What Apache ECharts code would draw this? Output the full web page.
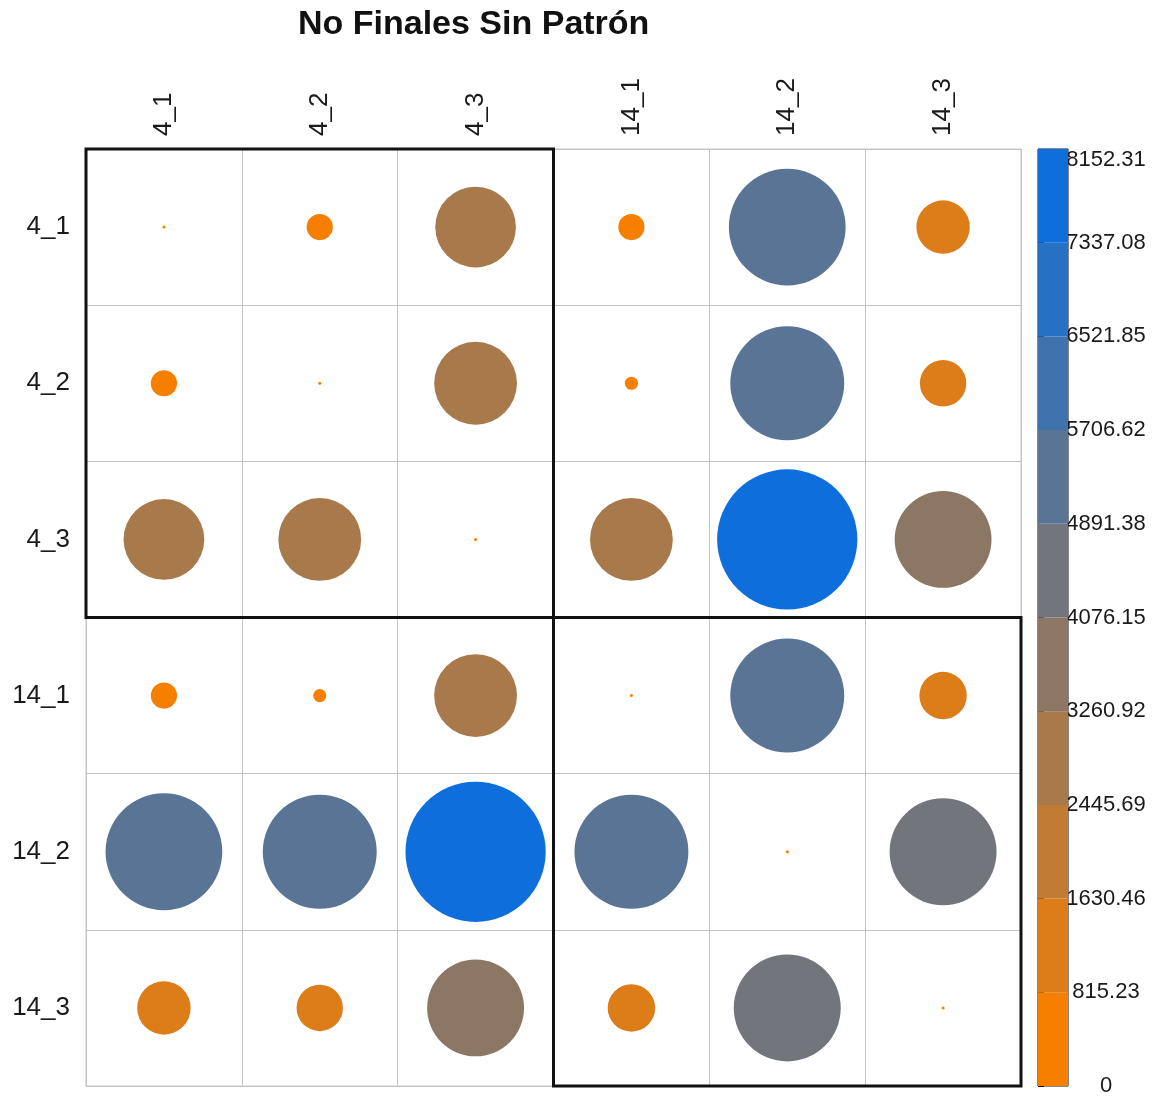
<!DOCTYPE html>
<html>
<head>
<meta charset="utf-8">
<title>No Finales Sin Patrón</title>
<script src="https://cdn.jsdelivr.net/npm/echarts@6/dist/echarts.min.js"></script>
<style>
  html, body { margin: 0; padding: 0; background: #ffffff; }
  #chart { width: 1152px; height: 1099px; }
</style>
</head>
<body>
<div id="chart"></div>
<script>
// Row / column labels of the distance matrix
const labels = ['4_1', '4_2', '4_3', '14_1', '14_2', '14_3'];

// Pairwise distances, one array per row (symmetric, zero diagonal)
const row_4_1  = [0,    285,  2700,    285,  5650,    1185];
const row_4_2  = [285,  0,    2840,    71,   5380,    893];
const row_4_3  = [2700, 2840, 0,       2840, 8152.31, 3890];
const row_14_1 = [285,  71,   2840,    0,    5380,    932];
const row_14_2 = [5650, 5380, 8152.31, 5380, 0,       4740];
const row_14_3 = [1185, 893,  3890,    932,  4740,    0];
const rows = [row_4_1, row_4_2, row_4_3, row_14_1, row_14_2, row_14_3];

// Colour-bar tick labels (bin edges)
const tickLabels = ['0', '815.23', '1630.46', '2445.69', '3260.92', '4076.15',
                    '4891.38', '5706.62', '6521.85', '7337.08', '8152.31'];

// Highlighted clusters (first and last label of each block)
const clusters = [['4_1', '4_3'], ['14_1', '14_3']];

// One colour per bin, orange -> slate grey -> blue
const binColors = ['#F77F00', '#DC7D19', '#C27B32', '#A7794B', '#8C7764',
                   '#72757C', '#597494', '#4072AC', '#2771C4', '#0E6FDC'];

const edges = tickLabels.map(Number);
const vMin = edges[0];
const vMax = edges[edges.length - 1];
const step = (vMax - vMin) / (edges.length - 1);

function binOf(v) {
  for (let i = 0; i < edges.length - 1; i++) {
    if (v < edges[i + 1]) return i;
  }
  return edges.length - 2;
}

const GRID = { left: 86, top: 149, width: 935, height: 937 };
const cellSize = GRID.width / labels.length;

const points = [];
rows.forEach((r, yi) => {
  r.forEach((v, xi) => {
    points.push({ value: [xi, yi, v], itemStyle: { color: binColors[binOf(v)], opacity: 1 } });
  });
});

const bins = [];
for (let i = 0; i < edges.length - 1; i++) bins.push([edges[i], edges[i + 1], i]);

const clusterData = clusters.map(c => [labels.indexOf(c[0]), labels.indexOf(c[1])]);

const FONT = '"Liberation Sans", Arial, sans-serif';
const chart = echarts.init(document.getElementById('chart'), null, { renderer: 'canvas' });

chart.setOption({
  backgroundColor: '#ffffff',
  animation: false,
  title: {
    text: 'No Finales Sin Patrón',
    left: 293,
    top: 3,
    textStyle: { fontFamily: FONT, fontWeight: 'bold', fontSize: 34, color: '#111' }
  },
  grid: [
    Object.assign({ show: true, borderColor: '#C4C4C4', borderWidth: 1, containLabel: false }, GRID),
    { left: 1038, top: 149, width: 30, height: 937, show: true, borderColor: '#111', borderWidth: 1, containLabel: false }
  ],
  xAxis: [
    {
      gridIndex: 0, type: 'category', data: labels, position: 'top',
      axisLine: { show: false }, axisTick: { show: false },
      splitLine: { show: true, interval: 0, lineStyle: { color: '#C4C4C4', width: 1 } },
      axisLabel: { rotate: -90, margin: 13, fontFamily: FONT, fontSize: 26, color: '#1a1a1a', interval: 0 }
    },
    { gridIndex: 1, type: 'value', min: 0, max: 1, show: false }
  ],
  yAxis: [
    {
      gridIndex: 0, type: 'category', data: labels, inverse: true,
      axisLine: { show: false }, axisTick: { show: false },
      splitLine: { show: true, interval: 0, lineStyle: { color: '#C4C4C4', width: 1 } },
      axisLabel: { margin: 16, fontFamily: FONT, fontSize: 26, color: '#1a1a1a', interval: 0 }
    },
    {
      gridIndex: 1, type: 'value', position: 'right', min: vMin, max: vMax, interval: step,
      axisLine: { show: false },
      axisTick: { show: true, length: 6, lineStyle: { color: '#111', width: 1 } },
      splitLine: { show: false },
      axisLabel: {
        margin: 38, align: 'center', fontFamily: FONT, fontSize: 22, color: '#1a1a1a',
        verticalAlignMaxLabel: 'top',
        formatter: v => tickLabels[Math.round((v - vMin) / step)]
      }
    }
  ],
  series: [
    {
      type: 'scatter',
      xAxisIndex: 0, yAxisIndex: 0,
      symbol: 'circle',
      symbolSize: d => Math.max(3, cellSize * 0.9 * Math.sqrt(d[2] / vMax)),
      itemStyle: { opacity: 1 },
      data: points,
      z: 3
    },
    {
      type: 'custom',
      xAxisIndex: 0, yAxisIndex: 0,
      data: clusterData,
      z: 5,
      renderItem: (params, api) => {
        const s = api.value(0), e = api.value(1);
        const a = api.coord([s, s]);
        const b = api.coord([e, e]);
        const sz = api.size([1, 1]);
        const x0 = Math.min(a[0], b[0]) - sz[0] / 2;
        const y0 = Math.min(a[1], b[1]) - sz[1] / 2;
        return {
          type: 'rect',
          shape: { x: x0, y: y0, width: Math.abs(b[0] - a[0]) + sz[0], height: Math.abs(b[1] - a[1]) + sz[1] },
          style: { fill: null, stroke: '#111', lineWidth: 3 }
        };
      }
    },
    {
      type: 'custom',
      xAxisIndex: 1, yAxisIndex: 1,
      data: bins,
      z: 2,
      renderItem: (params, api) => {
        const lo = api.value(0), hi = api.value(1), i = api.value(2);
        const p1 = api.coord([0, hi]);
        const p2 = api.coord([1, lo]);
        return {
          type: 'rect',
          shape: { x: p1[0], y: p1[1], width: p2[0] - p1[0], height: p2[1] - p1[1] },
          style: { fill: binColors[i], stroke: null }
        };
      }
    }
  ]
});
</script>
</body>
</html>
